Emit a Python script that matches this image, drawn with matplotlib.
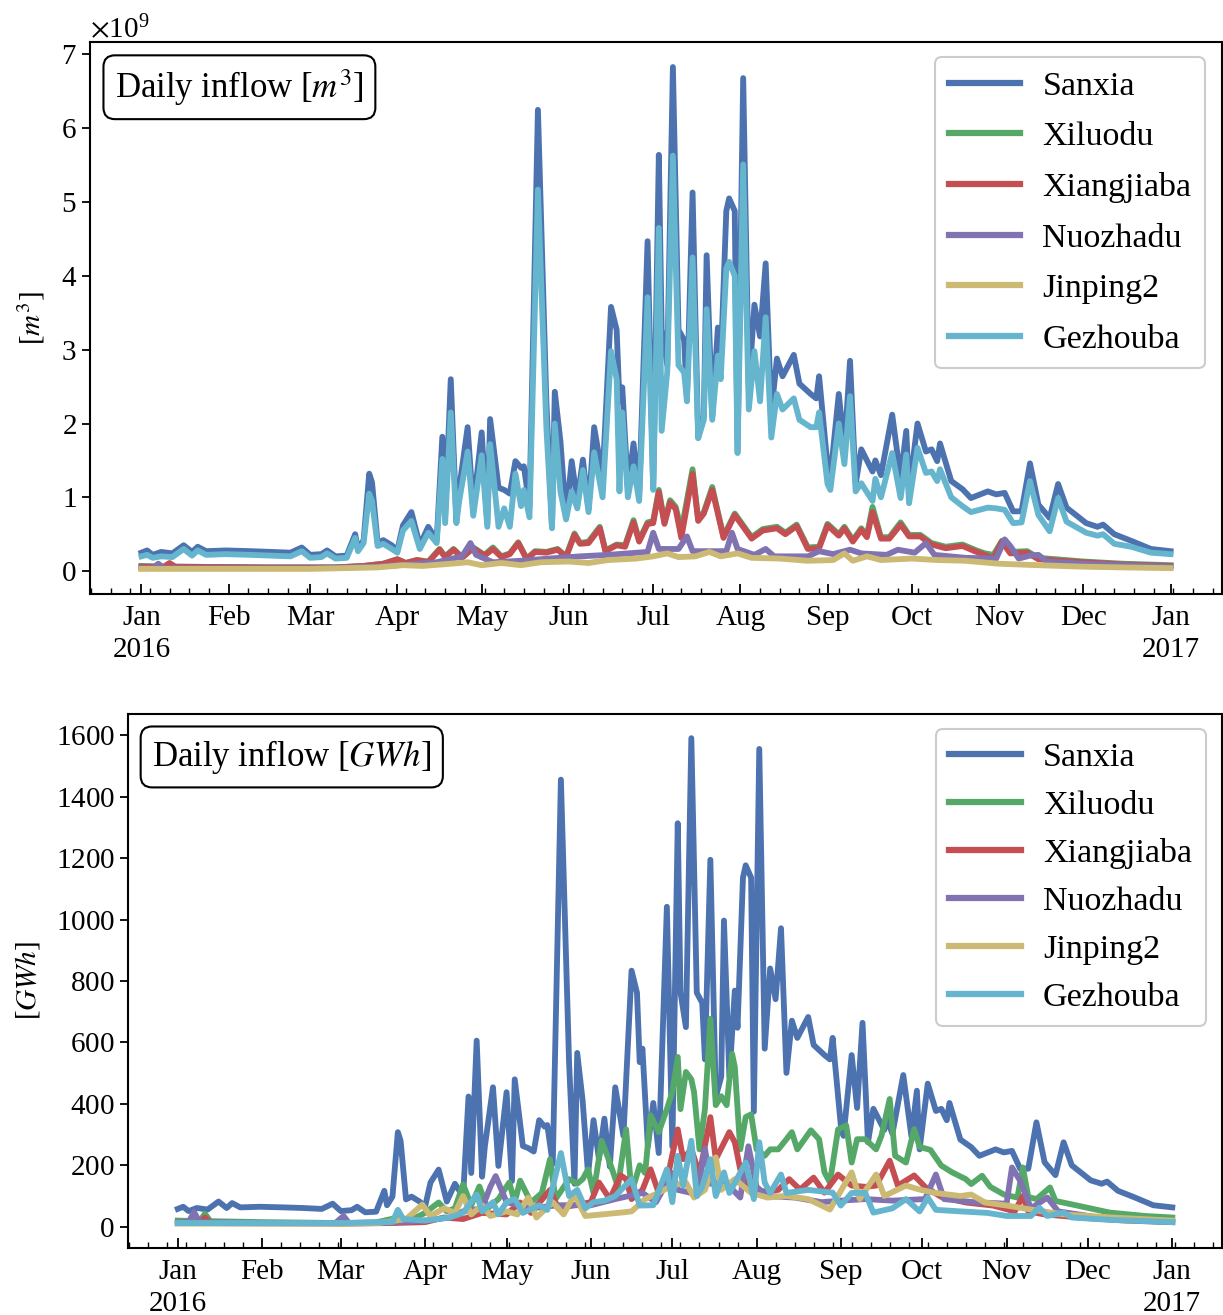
import numpy as np
import pandas as pd
import matplotlib
matplotlib.use("Agg")
import matplotlib.pyplot as plt
import matplotlib.dates as mdates
from matplotlib.ticker import FuncFormatter

plt.rcParams['font.family'] = ['Liberation Serif', 'DejaVu Serif']
plt.rcParams['mathtext.fontset'] = 'stix'
plt.rcParams['axes.formatter.use_mathtext'] = True

# ---------------- data ----------------
names = ["Sanxia", "Xiluodu", "Xiangjiaba", "Nuozhadu", "Jinping2", "Gezhouba"]
colors = ["#4C72B0", "#55A868", "#C44E52", "#8172B2", "#CCB974", "#64B5CD"]

# Sanxia / Gezhouba share one set of dates
sg_dates = [
    "01-01", "01-03", "01-05", "01-08", "01-12", "01-16", "01-19", "01-21", "01-24", "01-31",
    "02-09", "02-16", "02-23", "02-27", "03-01", "03-05", "03-07", "03-10", "03-14", "03-17",
    "03-18", "03-20", "03-22", "03-23", "03-25", "03-27", "03-30", "04-01", "04-03", "04-06",
    "04-09", "04-12", "04-15", "04-17", "04-18", "04-20", "04-22", "04-23", "04-26", "04-28",
    "05-01", "05-03", "05-04", "05-07", "05-09", "05-11", "05-13", "05-15", "05-16", "05-18",
    "05-21", "05-24", "05-26", "05-27", "05-29", "05-31", "06-02", "06-04", "06-06", "06-08",
    "06-10", "06-13", "06-16", "06-18", "06-19", "06-20", "06-22", "06-24", "06-26", "06-29",
    "07-01", "07-03", "07-04", "07-06", "07-08", "07-10", "07-12", "07-13", "07-15", "07-17",
    "07-19", "07-20", "07-22", "07-24", "07-25", "07-27", "07-28", "07-30", "07-31", "08-02",
    "08-04", "08-06", "08-08", "08-10", "08-12", "08-14", "08-16", "08-20", "08-22", "08-26",
    "08-28", "08-29", "09-01", "09-02", "09-05", "09-07", "09-09", "09-11", "09-13", "09-17",
    "09-18", "09-20", "09-24", "09-27", "09-29", "09-30", "10-03", "10-06", "10-08", "10-10",
    "10-11", "10-15", "10-19", "10-22", "10-28", "10-31", "11-03", "11-06", "11-09", "11-12",
    "11-15", "11-19", "11-22", "11-25", "12-02", "12-06", "12-08", "12-12", "12-18", "12-25",
    "2017-01-01",
]
sanxia_m3 = [
    0.25, 0.28, 0.22, 0.26, 0.24, 0.35, 0.26, 0.33, 0.27, 0.28,
    0.27, 0.26, 0.25, 0.32, 0.22, 0.23, 0.28, 0.20, 0.21, 0.50,
    0.30, 0.42, 1.32, 1.20, 0.38, 0.42, 0.35, 0.28, 0.62, 0.80,
    0.35, 0.60, 0.42, 1.82, 0.75, 2.60, 0.70, 1.12, 1.95, 0.85,
    1.88, 0.64, 2.06, 1.13, 1.10, 1.05, 1.49, 1.40, 1.42, 0.88,
    6.25, 2.30, 0.60, 2.43, 1.76, 0.73, 1.49, 0.95, 1.51, 0.84,
    1.95, 1.27, 3.58, 3.27, 2.30, 2.49, 1.12, 1.73, 1.03, 4.47,
    1.12, 5.64, 3.28, 2.79, 6.83, 3.27, 3.13, 2.34, 5.13, 1.81,
    2.10, 4.28, 2.10, 3.30, 2.78, 4.88, 5.05, 4.88, 1.61, 6.68,
    2.49, 3.61, 3.18, 4.17, 2.15, 2.88, 2.64, 2.93, 2.54, 2.40,
    2.34, 2.64, 1.42, 1.27, 2.40, 1.66, 2.85, 1.18, 1.65, 1.35,
    1.50, 1.30, 2.12, 1.26, 1.90, 1.08, 2.00, 1.62, 1.65, 1.49,
    1.73, 1.22, 1.11, 0.99, 1.08, 1.04, 1.06, 0.81, 0.81, 1.46,
    0.90, 0.72, 1.18, 0.86, 0.65, 0.60, 0.63, 0.50, 0.41, 0.30,
    0.27,
]
gezhouba_m3 = [
    0.20, 0.22, 0.18, 0.20, 0.19, 0.30, 0.21, 0.28, 0.22, 0.23,
    0.22, 0.21, 0.20, 0.27, 0.18, 0.19, 0.24, 0.17, 0.18, 0.45,
    0.27, 0.38, 1.05, 0.95, 0.34, 0.37, 0.30, 0.25, 0.55, 0.68,
    0.30, 0.52, 0.38, 1.52, 0.65, 2.15, 0.65, 0.95, 1.62, 0.75,
    1.57, 0.60, 1.72, 0.60, 0.85, 0.60, 1.32, 0.88, 1.10, 0.73,
    5.17, 1.95, 0.58, 2.00, 1.08, 0.70, 1.08, 0.85, 1.37, 0.80,
    1.61, 1.00, 2.98, 2.60, 1.08, 2.15, 1.00, 1.42, 0.95, 3.71,
    1.10, 4.65, 1.90, 2.70, 5.63, 2.79, 2.69, 2.30, 4.25, 1.80,
    2.05, 3.55, 2.05, 2.92, 2.60, 4.10, 4.19, 4.00, 1.60, 5.51,
    2.19, 2.98, 2.30, 3.44, 1.81, 2.40, 2.19, 2.34, 2.05, 1.95,
    1.95, 2.15, 1.18, 1.10, 2.00, 1.45, 2.37, 1.08, 1.19, 0.95,
    1.25, 1.00, 1.60, 0.99, 1.58, 0.92, 1.67, 1.33, 1.35, 1.22,
    1.38, 1.00, 0.88, 0.80, 0.86, 0.85, 0.83, 0.65, 0.66, 1.22,
    0.76, 0.54, 0.99, 0.67, 0.52, 0.48, 0.50, 0.37, 0.33, 0.25,
    0.23,
]
sanxia_gwh = [
    58, 65, 51, 61, 56, 82, 61, 77, 63, 65,
    63, 61, 58, 75, 51, 54, 65, 47, 49, 117,
    70, 98, 308, 280, 89, 98, 82, 65, 144, 186,
    82, 140, 98, 424, 175, 606, 163, 261, 454, 198,
    438, 149, 480, 263, 256, 245, 347, 326, 331, 205,
    1456, 536, 140, 566, 410, 170, 347, 221, 352, 196,
    454, 296, 834, 762, 536, 580, 261, 403, 240, 1042,
    261, 1314, 764, 650, 1591, 762, 729, 545, 1195, 422,
    489, 997, 489, 769, 648, 1137, 1177, 1137, 375, 1556,
    580, 841, 741, 972, 501, 671, 615, 683, 592, 559,
    545, 615, 331, 296, 559, 387, 664, 275, 384, 315,
    350, 303, 494, 294, 443, 252, 466, 377, 384, 347,
    403, 284, 259, 231, 252, 242, 247, 189, 189, 340,
    210, 168, 275, 200, 151, 140, 147, 117, 96, 70,
    63,
]

# Xiluodu / Xiangjiaba in m3 share dates
xx_dates = [
    "01-01", "01-09", "01-11", "01-13", "02-15", "03-10", "03-20", "03-27", "04-01", "04-04",
    "04-08", "04-12", "04-16", "04-18", "04-21", "04-24", "04-28", "05-02", "05-05", "05-08",
    "05-11", "05-14", "05-17", "05-20", "05-24", "05-28", "05-31", "06-03", "06-05", "06-08",
    "06-12", "06-14", "06-18", "06-21", "06-24", "06-26", "06-29", "07-01", "07-03", "07-05",
    "07-07", "07-09", "07-11", "07-15", "07-17", "07-19", "07-22", "07-24", "07-26", "07-30",
    "08-02", "08-05", "08-09", "08-14", "08-17", "08-21", "08-25", "08-29", "09-01", "09-05",
    "09-07", "09-10", "09-13", "09-15", "09-17", "09-20", "09-23", "09-27", "09-30", "10-04",
    "10-08", "10-13", "10-19", "10-24", "10-27", "10-30", "11-02", "11-05", "11-11", "11-15",
    "12-01", "12-15", "2017-01-01",
]
xiluodu_m3 = [
    0.07, 0.06, 0.07, 0.06, 0.05, 0.05, 0.07, 0.10, 0.16, 0.11,
    0.15, 0.13, 0.30, 0.20, 0.30, 0.19, 0.32, 0.22, 0.32, 0.20,
    0.24, 0.39, 0.17, 0.27, 0.26, 0.30, 0.20, 0.51, 0.38, 0.40,
    0.60, 0.28, 0.36, 0.35, 0.69, 0.42, 0.66, 0.68, 1.10, 0.66,
    0.96, 0.87, 0.55, 1.38, 0.70, 0.80, 1.14, 0.80, 0.47, 0.78,
    0.62, 0.46, 0.57, 0.60, 0.52, 0.63, 0.32, 0.33, 0.64, 0.50,
    0.60, 0.42, 0.58, 0.48, 0.87, 0.46, 0.46, 0.66, 0.49, 0.49,
    0.38, 0.33, 0.36, 0.28, 0.24, 0.22, 0.41, 0.26, 0.27, 0.18,
    0.13, 0.10, 0.08,
]
xiangjiaba_m3 = [
    0.06, 0.06, 0.11, 0.06, 0.05, 0.05, 0.07, 0.10, 0.16, 0.11,
    0.15, 0.12, 0.29, 0.19, 0.29, 0.18, 0.31, 0.21, 0.30, 0.19,
    0.23, 0.38, 0.16, 0.26, 0.25, 0.29, 0.19, 0.49, 0.37, 0.38,
    0.58, 0.27, 0.35, 0.33, 0.66, 0.40, 0.64, 0.65, 1.07, 0.64,
    0.93, 0.84, 0.45, 1.32, 0.68, 0.78, 1.10, 0.78, 0.45, 0.76,
    0.60, 0.44, 0.55, 0.58, 0.50, 0.61, 0.30, 0.31, 0.62, 0.48,
    0.58, 0.40, 0.56, 0.46, 0.80, 0.44, 0.44, 0.63, 0.47, 0.47,
    0.36, 0.31, 0.34, 0.26, 0.22, 0.17, 0.40, 0.24, 0.25, 0.16,
    0.12, 0.09, 0.07,
]

nz_dates = [
    "01-01", "01-05", "01-07", "01-09", "03-01", "03-25", "04-05", "04-15", "04-24", "04-27",
    "04-29", "05-05", "05-15", "05-25", "06-05", "06-15", "06-22", "06-29", "07-01", "07-03",
    "07-10", "07-13", "07-15", "07-27", "07-29", "07-31", "08-06", "08-10", "08-13", "08-25",
    "08-29", "09-03", "09-09", "09-13", "09-22", "09-26", "10-02", "10-06", "10-09", "10-20",
    "10-31", "11-03", "11-05", "11-08", "11-12", "11-15", "11-18", "12-01", "12-15", "2017-01-01",
]
nuozhadu_m3 = [
    0.04, 0.04, 0.10, 0.04, 0.04, 0.06, 0.09, 0.12, 0.20, 0.38,
    0.22, 0.12, 0.14, 0.17, 0.20, 0.22, 0.24, 0.26, 0.52, 0.30,
    0.30, 0.47, 0.27, 0.27, 0.52, 0.30, 0.22, 0.30, 0.20, 0.20,
    0.27, 0.23, 0.29, 0.24, 0.22, 0.29, 0.25, 0.38, 0.22, 0.18,
    0.17, 0.43, 0.34, 0.17, 0.21, 0.22, 0.13, 0.10, 0.08, 0.06,
]

jp_dates = [
    "01-01", "02-01", "03-01", "03-25", "04-03", "04-10", "04-20", "04-26", "05-01", "05-08",
    "05-15", "05-22", "06-01", "06-08", "06-15", "06-25", "07-01", "07-06", "07-10", "07-16",
    "07-21", "07-25", "07-31", "08-05", "08-15", "08-25", "09-03", "09-07", "09-10", "09-15",
    "09-20", "10-01", "10-10", "10-20", "11-01", "11-15", "12-01", "12-15", "2017-01-01",
]
jinping2_m3 = [
    0.03, 0.03, 0.03, 0.05, 0.08, 0.07, 0.10, 0.12, 0.08, 0.11,
    0.08, 0.12, 0.13, 0.11, 0.15, 0.17, 0.20, 0.24, 0.19, 0.20,
    0.26, 0.20, 0.24, 0.18, 0.17, 0.14, 0.15, 0.24, 0.14, 0.20,
    0.15, 0.17, 0.15, 0.14, 0.10, 0.08, 0.06, 0.05, 0.04,
]

# energy panel [GWh]
xl_dates = [
    "01-01", "01-09", "01-11", "01-13", "02-01", "03-01", "03-14", "03-22", "03-26", "04-01",
    "04-06", "04-09", "04-12", "04-15", "04-18", "04-21", "04-24", "04-28", "05-02", "05-04",
    "05-06", "05-10", "05-14", "05-17", "05-19", "05-24", "05-27", "05-29", "05-31", "06-02",
    "06-05", "06-08", "06-11", "06-14", "06-16", "06-19", "06-21", "06-23", "06-26", "06-29",
    "07-01", "07-03", "07-04", "07-06", "07-08", "07-09", "07-11", "07-13", "07-15", "07-17",
    "07-19", "07-21", "07-23", "07-24", "07-26", "07-28", "07-30", "08-01", "08-04", "08-06",
    "08-09", "08-12", "08-14", "08-16", "08-21", "08-24", "08-26", "08-28", "08-31", "09-03",
    "09-05", "09-07", "09-10", "09-14", "09-16", "09-19", "09-21", "09-25", "09-28", "09-30",
    "10-04", "10-08", "10-12", "10-17", "10-19", "10-23", "10-26", "10-31", "11-05", "11-07",
    "11-09", "11-12", "11-17", "11-19", "11-27", "12-09", "12-22", "2017-01-01",
]
xiluodu_gwh = [
    20, 18, 42, 18, 15, 12, 14, 30, 18, 45,
    79, 50, 60, 138, 70, 131, 60, 90, 144, 80,
    150, 79, 110, 220, 90, 155, 140, 155, 187, 110,
    280, 209, 130, 317, 111, 200, 175, 363, 308, 383,
    438, 553, 383, 504, 480, 438, 252, 383, 677, 396,
    425, 396, 563, 520, 252, 357, 366, 252, 231, 252,
    252, 285, 308, 252, 314, 285, 177, 144, 317, 330,
    209, 285, 285, 252, 297, 416, 231, 209, 318, 260,
    250, 199, 177, 155, 139, 166, 130, 105, 95, 193,
    97, 90, 128, 84, 69, 46, 35, 30,
]

xj_dates = [
    "01-01", "01-09", "01-11", "01-13", "03-01", "03-20", "04-01", "04-08", "04-15", "04-22",
    "05-01", "05-06", "05-10", "05-17", "05-20", "05-26", "06-01", "06-04", "06-08", "06-12",
    "06-14", "06-16", "06-20", "06-23", "06-26", "06-29", "07-03", "07-05", "07-08", "07-11",
    "07-15", "07-17", "07-22", "07-24", "07-26", "07-30", "08-04", "08-09", "08-13", "08-17",
    "08-22", "08-26", "08-31", "09-05", "09-10", "09-14", "09-19", "09-22", "09-28", "10-02",
    "10-08", "10-17", "10-27", "11-04", "11-07", "11-09", "11-15", "12-01", "12-15", "2017-01-01",
]
xiangjiaba_gwh = [
    12, 12, 30, 12, 10, 12, 15, 30, 25, 45,
    40, 79, 45, 120, 60, 70, 80, 144, 90, 167,
    155, 90, 120, 187, 110, 150, 317, 220, 253, 170,
    357, 220, 308, 275, 187, 121, 115, 120, 155, 121,
    160, 111, 170, 134, 130, 134, 215, 134, 167, 130,
    97, 79, 69, 50, 100, 50, 40, 28, 20, 15,
]

nzg_dates = [
    "01-01", "01-05", "01-07", "01-09", "02-01", "02-28", "03-02", "03-04", "03-22", "04-01",
    "04-10", "04-15", "04-22", "04-25", "04-27", "05-01", "05-10", "05-20", "06-01", "06-10",
    "06-20", "06-25", "07-01", "07-03", "07-08", "07-10", "07-13", "07-15", "07-20", "07-26",
    "07-29", "08-01", "08-05", "08-15", "08-25", "09-01", "09-10", "09-20", "10-02", "10-06",
    "10-09", "10-20", "11-01", "11-03", "11-06", "11-10", "11-16", "11-20", "12-05", "12-20",
    "2017-01-01",
]
nuozhadu_gwh = [
    15, 15, 48, 15, 12, 12, 35, 12, 15, 20,
    30, 50, 60, 130, 165, 80, 60, 70, 70, 90,
    110, 80, 175, 120, 110, 100, 255, 140, 150, 95,
    262, 130, 100, 95, 80, 85, 90, 85, 90, 170,
    90, 80, 75, 193, 150, 60, 95, 50, 30, 20,
    15,
]

jpg_dates = [
    "01-01", "02-01", "03-01", "03-15", "03-25", "03-31", "04-03", "04-08", "04-12", "04-15",
    "04-18", "04-22", "04-25", "05-01", "05-05", "05-09", "05-12", "05-18", "05-22", "05-26",
    "05-30", "06-05", "06-12", "06-16", "06-21", "06-26", "07-01", "07-06", "07-09", "07-13",
    "07-17", "07-19", "07-24", "07-30", "08-05", "08-12", "08-20", "08-28", "09-05", "09-08",
    "09-14", "09-17", "09-25", "09-30", "10-05", "10-15", "10-19", "10-24", "11-01", "11-10",
    "11-22", "12-10", "2017-01-01",
]
jinping2_gwh = [
    10, 10, 10, 12, 25, 72, 35, 60, 45, 100,
    40, 70, 35, 50, 40, 95, 30, 80, 40, 105,
    35, 40, 46, 50, 90, 111, 134, 144, 95, 120,
    226, 120, 155, 110, 95, 100, 90, 56, 177, 90,
    170, 100, 134, 121, 111, 100, 105, 79, 69, 56,
    40, 30, 20,
]

gzg_dates = [
    "01-01", "02-01", "03-01", "03-20", "03-22", "03-24", "04-01", "04-10", "04-15", "04-20",
    "04-22", "04-26", "04-28", "05-01", "05-04", "05-07", "05-13", "05-16", "05-21", "05-24",
    "05-27", "05-30", "06-02", "06-06", "06-10", "06-16", "06-19", "06-24", "06-29", "07-01",
    "07-03", "07-05", "07-08", "07-10", "07-12", "07-15", "07-17", "07-20", "07-22", "07-28",
    "07-31", "08-02", "08-04", "08-06", "08-10", "08-12", "08-20", "08-29", "09-01", "09-05",
    "09-10", "09-13", "09-20", "09-25", "09-30", "10-03", "10-06", "10-15", "10-25", "11-01",
    "11-10", "11-13", "11-16", "11-22", "11-25", "12-10", "2017-01-01",
]
gezhouba_gwh = [
    12, 12, 12, 15, 55, 25, 20, 30, 45, 105,
    50, 80, 40, 80, 90, 45, 70, 55, 240, 100,
    120, 60, 80, 85, 100, 155, 69, 70, 187, 80,
    231, 134, 280, 100, 130, 220, 100, 177, 110, 209,
    90, 275, 144, 110, 170, 110, 120, 111, 69, 110,
    110, 46, 60, 90, 50, 95, 55, 50, 45, 35,
    35, 62, 35, 46, 30, 22, 15,
]


def to_dates(lst):
    return pd.to_datetime([d if len(d) > 5 else "2016-" + d for d in lst])


def month_fmt(x, pos):
    d = mdates.num2date(x)
    if d.month == 1:
        return d.strftime("%b\n%Y")
    return d.strftime("%b")


def style_axis(ax):
    ax.xaxis.set_major_locator(mdates.MonthLocator())
    ax.xaxis.set_major_formatter(FuncFormatter(month_fmt))
    ax.xaxis.set_minor_locator(mdates.WeekdayLocator(byweekday=mdates.MO))
    ax.tick_params(axis='x', which='major', direction='in', length=7, width=1.3,
                   labelsize=21, pad=8)
    ax.tick_params(axis='x', which='minor', direction='in', length=4, width=1.0)
    ax.tick_params(axis='y', which='major', direction='out', length=6, width=1.3,
                   labelsize=21)
    for s in ax.spines.values():
        s.set_linewidth(1.5)
    for lab in ax.get_xticklabels():
        lab.set_linespacing(1.3)


fig = plt.figure(figsize=(12.23, 13.15), dpi=100)
ax1 = fig.add_axes([0.0736, 0.5483, 0.9256, 0.4198])
ax2 = fig.add_axes([0.1047, 0.0510, 0.8945, 0.4061])

lw = 4.2
top_series = [
    (sg_dates, sanxia_m3), (xx_dates, xiluodu_m3), (xx_dates, xiangjiaba_m3),
    (nz_dates, nuozhadu_m3), (jp_dates, jinping2_m3), (sg_dates, gezhouba_m3),
]
for (dts, vals), name, c in zip(top_series, names, colors):
    ax1.plot(to_dates(dts), np.array(vals) * 1e9, color=c, lw=lw, label=name)

bot_series = [
    (sg_dates, sanxia_gwh), (xl_dates, xiluodu_gwh), (xj_dates, xiangjiaba_gwh),
    (nzg_dates, nuozhadu_gwh), (jpg_dates, jinping2_gwh), (gzg_dates, gezhouba_gwh),
]
for (dts, vals), name, c in zip(bot_series, names, colors):
    ax2.plot(to_dates(dts), vals, color=c, lw=lw, label=name)

panels = [(ax1, r"Daily inflow [$m^3$]", r"[$m^3$]", 0.58),
          (ax2, r"Daily inflow [$GWh$]", r"[$GWh$]", 0.50)]
for ax, title, ylab, lsp in panels:
    style_axis(ax)
    ax.set_ylabel(ylab, fontsize=21, labelpad=10)
    ax.text(0.022, 0.955, title, transform=ax.transAxes, fontsize=25,
            va='top', ha='left',
            bbox=dict(boxstyle='round,pad=0.33', fc='white', ec='black', lw=1.5))
    leg = ax.legend(loc='upper right', bbox_to_anchor=(0.985, 0.972),
                    borderaxespad=0, fontsize=24.5, handlelength=2.1,
                    handletextpad=0.65, labelspacing=lsp, fancybox=True,
                    framealpha=1.0, borderpad=0.4)
    leg.get_frame().set_edgecolor('#cccccc')
    leg.get_frame().set_linewidth(1.5)
    for h in leg.get_lines():
        h.set_linewidth(4.5)

ax1.yaxis.get_offset_text().set_fontsize(21)

fig.savefig("out.png", dpi=100)
